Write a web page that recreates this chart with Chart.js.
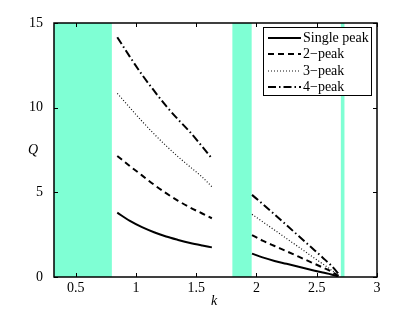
<!DOCTYPE html>
<html>
<head>
<meta charset="utf-8">
<script src="https://cdn.jsdelivr.net/npm/chart.js@4.4.0/dist/chart.umd.min.js"></script>
<style>
  html, body { margin: 0; padding: 0; background: #fff; }
  #wrap { width: 415px; height: 312px; position: relative; }
</style>
</head>
<body>
<div id="wrap"><canvas id="qChart"></canvas></div>
<script>
// k values for the two branches
const kLow  = [0.845, 0.95, 1.05, 1.15, 1.25, 1.35, 1.45, 1.55, 1.63];
const kHigh = [1.963, 2.05, 2.15, 2.25, 2.35, 2.45, 2.55, 2.62, 2.68];

// Q
const singleLow = [3.80, 3.31, 2.94, 2.64, 2.39, 2.19, 2.01, 1.86, 1.75];
const peak2Low  = [7.15, 6.55, 6.00, 5.45, 4.95, 4.50, 4.10, 3.75, 3.47];
const peak3Low  = [10.85, 10.0, 9.20, 8.45, 7.75, 7.10, 6.50, 5.90, 5.33];
const peak4Low  = [14.16, 13.0, 11.95, 11.0, 10.1, 9.30, 8.55, 7.70, 7.00];

const singleHigh = [1.38, 1.16, 0.95, 0.78, 0.60, 0.43, 0.26, 0.15, 0.03];
const peak2High  = [2.48, 2.15, 1.83, 1.52, 1.20, 0.88, 0.56, 0.33, 0.06];
const peak3High  = [3.70, 3.27, 2.77, 2.27, 1.77, 1.27, 0.77, 0.42, 0.10];
const peak4High  = [4.85, 4.32, 3.70, 3.06, 2.42, 1.78, 1.14, 0.68, 0.20];

const seriesNames = ['Single peak', '2\u2212peak', '3\u2212peak', '4\u2212peak'];

// shaded k intervals
const bandStart = [0.32, 1.80, 2.70];
const bandEnd   = [0.80, 1.96, 2.73];

const xTicks = [0.5, 1, 1.5, 2, 2.5, 3];
const yTicks = [0, 5, 10, 15];

function pts(ks, qs) {
    return ks.map(function(k, i) { return { x: k, y: qs[i] }; });
}
function branches(low, high) {
    return pts(kLow, low).concat([{ x: 1.8, y: null }], pts(kHigh, high));
}

const styles = [
    { width: 2,   dash: [] ,            color: '#000' },
    { width: 2,   dash: [6, 4],         color: '#000' },
    { width: 1.2, dash: [1, 2],         color: '#111' },
    { width: 2,   dash: [8, 3, 1.5, 3], color: '#000' }
];
const allData = [
    branches(singleLow, singleHigh),
    branches(peak2Low, peak2High),
    branches(peak3Low, peak3High),
    branches(peak4Low, peak4High)
];

const serif = '"Liberation Serif", "DejaVu Serif", serif';

// cyan bands behind the curves
const bandsPlugin = {
    id: 'bands',
    beforeDatasetsDraw(chart) {
        const ctx = chart.ctx, xs = chart.scales.x, area = chart.chartArea;
        ctx.save();
        ctx.fillStyle = '#7FFFD4';
        for (let i = 0; i < bandStart.length; i++) {
            const a = Math.max(xs.getPixelForValue(bandStart[i]), area.left);
            const b = xs.getPixelForValue(bandEnd[i]);
            ctx.fillRect(a, area.top, b - a, area.bottom - area.top);
        }
        ctx.restore();
    }
};

// box, inward ticks, axis titles, legend
const framePlugin = {
    id: 'frame',
    afterDraw(chart) {
        const ctx = chart.ctx, xs = chart.scales.x, ys = chart.scales.y, a = chart.chartArea;
        ctx.save();
        ctx.strokeStyle = '#000';
        ctx.lineWidth = 1;
        ctx.beginPath();
        xTicks.forEach(function(v) {
            const px = Math.round(xs.getPixelForValue(v)) + 0.5;
            ctx.moveTo(px, a.bottom); ctx.lineTo(px, a.bottom - 4);
            ctx.moveTo(px, a.top); ctx.lineTo(px, a.top + 4);
        });
        yTicks.forEach(function(v) {
            const py = Math.round(ys.getPixelForValue(v)) + 0.5;
            ctx.moveTo(a.left, py); ctx.lineTo(a.left + 4, py);
            ctx.moveTo(a.right, py); ctx.lineTo(a.right - 4, py);
        });
        ctx.stroke();
        ctx.lineWidth = 1.5;
        ctx.strokeRect(a.left, a.top, a.right - a.left, a.bottom - a.top);

        ctx.fillStyle = '#000';
        ctx.font = 'italic 14px ' + serif;
        ctx.textAlign = 'center';
        ctx.textBaseline = 'middle';
        ctx.fillText('Q', 33, 150);
        ctx.fillText('k', 214, 301);

        // legend
        const lx = 263, ly = 27, lw = 108, lh = 68;
        ctx.fillStyle = '#fff';
        ctx.fillRect(lx, ly, lw, lh);
        ctx.lineWidth = 1;
        ctx.strokeRect(lx + 0.5, ly + 0.5, lw, lh);
        ctx.font = '14px ' + serif;
        ctx.textAlign = 'left';
        const rows = [38, 54, 71, 87];
        seriesNames.forEach(function(name, i) {
            const s = styles[i];
            ctx.strokeStyle = s.color;
            ctx.lineWidth = s.width;
            ctx.setLineDash(s.dash);
            ctx.beginPath();
            ctx.moveTo(268, rows[i]);
            ctx.lineTo(301, rows[i]);
            ctx.stroke();
            ctx.setLineDash([]);
            ctx.fillStyle = '#000';
            ctx.fillText(name, 303, rows[i]);
        });
        ctx.restore();
    }
};

new Chart(document.getElementById('qChart').getContext('2d'), {
    type: 'scatter',
    data: {
        datasets: allData.map(function(d, i) {
            return {
                label: seriesNames[i],
                data: d,
                showLine: true,
                spanGaps: false,
                borderColor: styles[i].color,
                borderWidth: styles[i].width,
                borderDash: styles[i].dash,
                pointRadius: 0,
                cubicInterpolationMode: 'monotone',
                fill: false
            };
        })
    },
    options: {
        responsive: true,
        maintainAspectRatio: false,
        animation: false,
        layout: { padding: { left: 0, right: 38, top: 23, bottom: 0 } },
        plugins: { legend: { display: false }, tooltip: { enabled: false } },
        scales: {
            x: {
                type: 'linear',
                min: 0.32,
                max: 3,
                grid: { display: false },
                border: { display: false },
                afterBuildTicks: function(s) { s.ticks = xTicks.map(function(v) { return { value: v }; }); },
                afterFit: function(s) { s.height = 35; },
                ticks: {
                    color: '#000',
                    font: { family: serif, size: 14 },
                    padding: -5,
                    maxRotation: 0,
                    callback: function(v) { return String(v); }
                }
            },
            y: {
                min: 0,
                max: 15,
                grid: { display: false },
                border: { display: false },
                afterBuildTicks: function(s) { s.ticks = yTicks.map(function(v) { return { value: v }; }); },
                afterFit: function(s) { s.width = 54; },
                ticks: {
                    color: '#000',
                    font: { family: serif, size: 14 },
                    padding: 3
                }
            }
        }
    },
    plugins: [bandsPlugin, framePlugin]
});
</script>
</body>
</html>
